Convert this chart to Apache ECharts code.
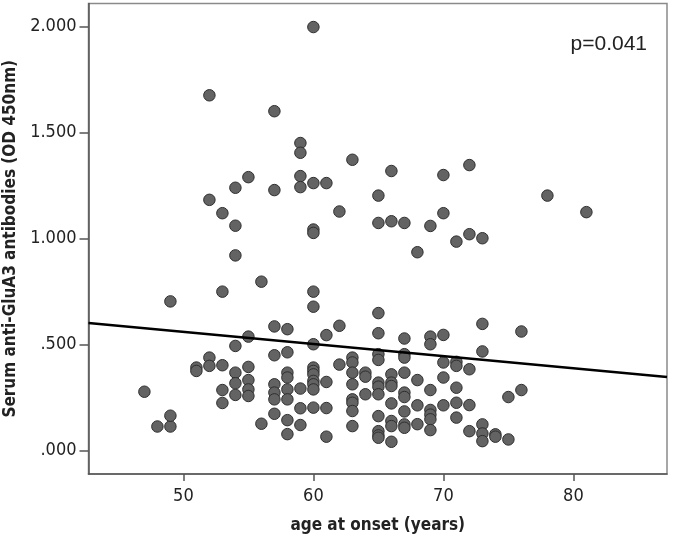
<!DOCTYPE html>
<html>
<head>
<meta charset="utf-8">
<script src="https://cdn.jsdelivr.net/npm/echarts@6/dist/echarts.min.js"></script>
<style>
  html, body { margin: 0; padding: 0; background: #fff; }
  #chart { width: 675px; height: 538px; }
</style>
</head>
<body>
<div id="chart"></div>
<script>
// age at onset (years) for each patient
const ages = [
  60, 52, 57, 59, 59, 63, 72, 66, 70, 55, 59, 60, 61, 59, 54, 57, 52, 65, 78, 62,
  53, 70, 81, 54, 60, 60, 65, 66, 67, 69, 72, 71, 73, 68, 54, 56, 53, 60, 49, 60,
  65, 73, 57, 58, 62, 76, 65, 61, 70, 55, 67, 69, 69, 60, 54, 73, 58, 57, 65, 65,
  67, 67, 63, 63, 52, 52, 51, 51, 53, 55, 62, 70, 71, 71, 72, 60, 60, 60, 60, 60,
  60, 54, 58, 58, 63, 64, 64, 66, 67, 70, 54, 55, 55, 55, 53, 53, 54, 57, 57, 57,
  57, 58, 58, 58, 58, 59, 59, 59, 60, 61, 61, 61, 63, 63, 63, 63, 63, 64, 65, 65,
  65, 65, 65, 65, 65, 66, 66, 66, 66, 66, 66, 67, 67, 67, 67, 67, 68, 68, 68, 69,
  69, 69, 69, 69, 70, 71, 71, 71, 72, 72, 73, 73, 73, 74, 74, 75, 75, 76, 47, 48,
  49, 49, 56
]
// serum anti-GluA3 antibodies (OD 450nm), same order as ages
const odValues = [
  1.997, 1.675, 1.600, 1.450, 1.404, 1.371, 1.346, 1.318, 1.299, 1.289, 1.294, 1.261, 1.261, 1.242, 1.239, 1.228, 1.182, 1.202, 1.202, 1.127,
  1.119, 1.119, 1.124, 1.060, 1.042, 1.026, 1.073, 1.081, 1.073, 1.059, 1.020, 0.985, 1.001, 0.935, 0.920, 0.796, 0.749, 0.749, 0.703, 0.678,
  0.648, 0.597, 0.585, 0.572, 0.588, 0.561, 0.553, 0.544, 0.545, 0.537, 0.528, 0.537, 0.501, 0.501, 0.493, 0.467, 0.463, 0.449, 0.454, 0.427,
  0.454, 0.438, 0.438, 0.415, 0.438, 0.399, 0.391, 0.375, 0.402, 0.394, 0.405, 0.415, 0.418, 0.399, 0.383, 0.391, 0.375, 0.359, 0.328, 0.312,
  0.288, 0.367, 0.367, 0.344, 0.367, 0.367, 0.348, 0.359, 0.367, 0.344, 0.317, 0.332, 0.288, 0.257, 0.285, 0.224, 0.262, 0.312, 0.273, 0.241,
  0.173, 0.288, 0.241, 0.143, 0.077, 0.292, 0.199, 0.120, 0.202, 0.323, 0.200, 0.065, 0.312, 0.241, 0.225, 0.186, 0.115, 0.265, 0.320, 0.301,
  0.265, 0.162, 0.091, 0.071, 0.060, 0.320, 0.304, 0.222, 0.139, 0.115, 0.041, 0.273, 0.252, 0.184, 0.123, 0.107, 0.332, 0.213, 0.124, 0.285,
  0.191, 0.169, 0.147, 0.096, 0.213, 0.296, 0.225, 0.155, 0.214, 0.091, 0.123, 0.080, 0.044, 0.076, 0.065, 0.052, 0.252, 0.285, 0.277, 0.113,
  0.113, 0.164, 0.126
]
// fitted regression line end points
const fitAges = [42.7, 87.2]
const fitValues = [0.601, 0.347]

const xTicks = [50, 60, 70, 80]
const yTicks = [0, 0.5, 1, 1.5, 2]
const pText = "p=0.041"

const points = ages.map((a, i) => [a, odValues[i]])
const fitLine = fitAges.map((a, i) => [a, fitValues[i]])

const chart = echarts.init(document.getElementById("chart"))

const tickFont = {
  fontFamily: "DejaVu Sans Condensed",
  fontSize: 18,
  color: "#222",
}
const titleFont = {
  fontFamily: "DejaVu Sans Condensed",
  fontWeight: "bold",
  fontSize: 17,
  color: "#222",
}

chart.setOption({
  animation: false,
  grid: {
    left: 88.5,
    right: 8,
    top: 3.5,
    bottom: 64,
    outerBoundsMode: "none",
    containLabel: false,
    show: true,
    borderColor: "#8a8a8a",
    borderWidth: 1.5,
  },
  title: {
    text: pText,
    right: 23,
    top: 29,
    textStyle: {
      fontFamily: "Liberation Sans",
      fontWeight: "normal",
      fontSize: 21,
      color: "#222",
    },
  },
  xAxis: {
    type: "value",
    min: 42.7,
    max: 87.2,
    name: "age at onset (years)",
    nameLocation: "middle",
    nameGap: 43,
    nameTextStyle: titleFont,
    splitLine: { show: false },
    axisLine: { show: true, onZero: false, lineStyle: { color: "#555", width: 1.5 } },
    axisTick: {
      show: true,
      customValues: xTicks,
      length: 7,
      lineStyle: { color: "#555", width: 1.5 },
    },
    axisLabel: {
      customValues: xTicks,
      margin: 13,
      ...tickFont,
    },
  },
  yAxis: {
    type: "value",
    min: -0.111,
    max: 2.108,
    name: "Serum anti-GluA3 antibodies (OD 450nm)",
    nameLocation: "middle",
    nameGap: 68,
    nameTextStyle: titleFont,
    splitLine: { show: false },
    axisLine: { show: true, onZero: false, lineStyle: { color: "#555", width: 1.5 } },
    axisTick: {
      show: true,
      customValues: yTicks,
      length: 9,
      lineStyle: { color: "#555", width: 1.5 },
    },
    axisLabel: {
      customValues: yTicks,
      margin: 12,
      formatter: function (v) {
        return v.toFixed(3).replace(/^0\./, ".")
      },
      ...tickFont,
    },
  },
  series: [
    {
      type: "scatter",
      data: points,
      symbol: "circle",
      symbolSize: 11.5,
      itemStyle: {
        color: "#636363",
        borderColor: "#2e2e2e",
        borderWidth: 1,
        opacity: 1,
      },
      z: 2,
    },
    {
      type: "line",
      data: fitLine,
      symbol: "none",
      lineStyle: { color: "#000", width: 2.5 },
      z: 3,
    },
  ],
})
</script>
</body>
</html>
